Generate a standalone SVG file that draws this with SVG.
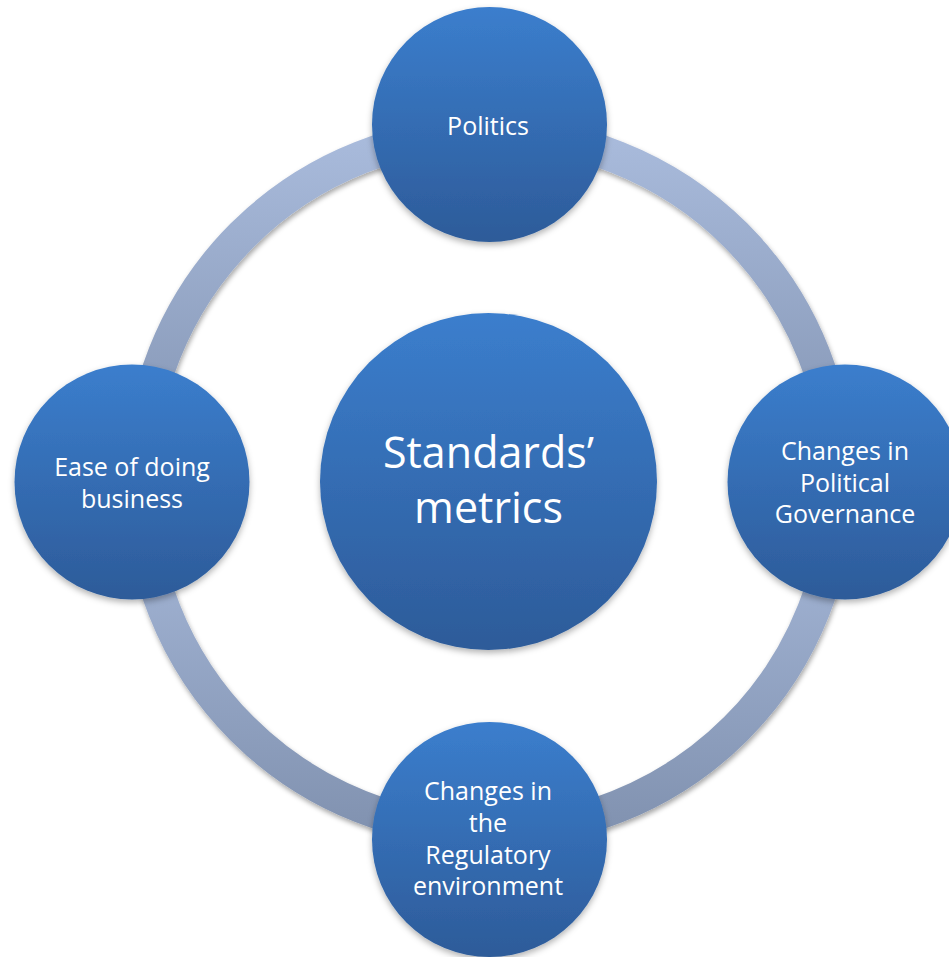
<svg xmlns="http://www.w3.org/2000/svg" width="949" height="957" viewBox="0 0 949 957">
<defs>
<linearGradient id="gNode" x1="0" y1="0" x2="0" y2="1">
<stop offset="0" stop-color="#3b7ecd"/>
<stop offset="1" stop-color="#2d5b99"/>
</linearGradient>
<linearGradient id="gArc" x1="0" y1="0" x2="0" y2="1">
<stop offset="0" stop-color="#a9bbdc"/>
<stop offset="1" stop-color="#8192b0"/>
</linearGradient>
<filter id="shArc" x="-20%" y="-20%" width="140%" height="140%">
<feDropShadow dx="1" dy="3" stdDeviation="2.5" flood-color="#000" flood-opacity="0.35"/>
</filter>
<filter id="shNode" x="-20%" y="-20%" width="140%" height="140%">
<feDropShadow dx="0" dy="3" stdDeviation="3" flood-color="#000" flood-opacity="0.3"/>
</filter>
</defs>
<style>
.node{fill:url(#gNode);filter:url(#shNode)}
.arc{fill:none;stroke:url(#gArc);stroke-width:33;filter:url(#shArc)}
.lbl{font-family:"Open Sans","Noto Sans",sans-serif;font-size:25px;fill:#ffffff;text-anchor:middle}
.big{font-size:43px}
</style>
<rect width="949" height="957" fill="#ffffff"/>
<g id="connectors">
<path class="arc" d="M489,133 A349,349 0 0 1 838,482"/>
<path class="arc" d="M838,482 A349,349 0 0 1 489,831"/>
<path class="arc" d="M489,831 A349,349 0 0 1 140,482"/>
<path class="arc" d="M140,482 A349,349 0 0 1 489,133"/>
</g>
<g id="node-center">
<circle class="node" cx="488.5" cy="481.5" r="168.5"/>
<text class="lbl big" x="488.5" y="468">Standards’</text>
<text class="lbl big" x="488.5" y="523">metrics</text>
</g>
<g id="node-politics">
<circle class="node" cx="489.5" cy="124.5" r="117.5"/>
<text class="lbl" x="488" y="135">Politics</text>
</g>
<g id="node-governance">
<circle class="node" cx="845" cy="482" r="117.5"/>
<text class="lbl" x="845" y="460">Changes in</text>
<text class="lbl" x="845" y="492">Political</text>
<text class="lbl" x="845" y="523">Governance</text>
</g>
<g id="node-regulatory">
<circle class="node" cx="489.5" cy="839.5" r="117.5"/>
<text class="lbl" x="488" y="800">Changes in</text>
<text class="lbl" x="488" y="832">the</text>
<text class="lbl" x="488" y="864">Regulatory</text>
<text class="lbl" x="488" y="895">environment</text>
</g>
<g id="node-ease">
<circle class="node" cx="132" cy="482" r="117.5"/>
<text class="lbl" x="132" y="476">Ease of doing</text>
<text class="lbl" x="132" y="508">business</text>
</g>
</svg>
